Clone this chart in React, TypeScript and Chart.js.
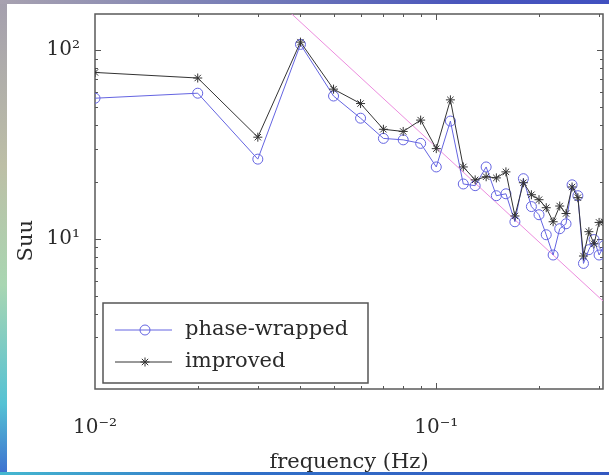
import React, { useEffect, useRef } from 'react';
import { Chart, registerables } from 'chart.js';

Chart.register(...registerables);

// ---------- data ----------
const freqs = [
  0.01, 0.02, 0.03, 0.04, 0.05, 0.06, 0.07, 0.08, 0.09, 0.1,
  0.11, 0.12, 0.13, 0.14, 0.15, 0.16, 0.17, 0.18, 0.19, 0.2,
  0.21, 0.22, 0.23, 0.24, 0.25, 0.26, 0.27, 0.28, 0.29, 0.3, 0.31,
];
const phaseWrapped = [
  55.5, 59, 26.4, 107, 57, 43.5, 34, 33.4, 32, 24,
  42, 19.5, 19.1, 24, 16.9, 17.3, 12.3, 20.8, 14.8, 13.4,
  10.5, 8.2, 11.3, 12.0, 19.3, 16.9, 7.4, 8.75, 9.9, 8.2, 9.2,
];
const improved = [
  76, 71, 34.5, 110, 62, 52, 38, 37, 42.5, 30,
  54.4, 24, 20.5, 21.3, 21, 22.6, 13.2, 19.8, 17.1, 16.1,
  14.6, 12.3, 14.9, 13.6, 18.8, 16.5, 8.1, 10.9, 9.4, 12.2, 12.3,
];
// -5/3 reference slope line end points
const refFreqs = [0.03, 0.31];
const refValues = [227, 4.63];

const xMajorTicks = [0.01, 0.1];
const xTickLabels = ['10⁻²', '10⁻¹'];
const yMajorTicks = [10, 100];
const yTickLabels = ['10¹', '10²'];

const seriesLabels = ['phase-wrapped', 'improved'];
const xTitle = 'frequency (Hz)';
const yTitle = 'Suu';

// ---------- styles ----------
const BLUE = 'rgb(100,100,225)';
const DARK = '#333333';
const PINK = 'rgb(236,140,222)';
const TEXT = '#2a2a2a';
const FONT = 'DejaVu Serif';

const isDecadeMatch = (list: number[], v: number) =>
  list.findIndex((t) => Math.abs(t - v) / t < 1e-6);

const isIntSignificand = (v: number) => {
  const s = v / Math.pow(10, Math.floor(Math.log10(v) + 1e-9));
  return Math.abs(s - Math.round(s)) < 1e-6;
};

const framePlugin = {
  id: 'matlabFrame',
  beforeDatasetsDraw(chart: any) {
    const { ctx, chartArea: a, scales } = chart;
    ctx.save();
    ctx.strokeStyle = '#555';
    ctx.lineWidth = 1;
    scales.x.ticks.forEach((t: any) => {
      if (!isIntSignificand(t.value)) return;
      const px = Math.round(scales.x.getPixelForValue(t.value)) + 0.5;
      if (px < a.left + 1 || px > a.right - 1) return;
      const len = isDecadeMatch(xMajorTicks, t.value) >= 0 ? 6 : 3;
      ctx.beginPath();
      ctx.moveTo(px, a.bottom);
      ctx.lineTo(px, a.bottom - len);
      ctx.moveTo(px, a.top);
      ctx.lineTo(px, a.top + len);
      ctx.stroke();
    });
    scales.y.ticks.forEach((t: any) => {
      if (!isIntSignificand(t.value)) return;
      const py = Math.round(scales.y.getPixelForValue(t.value)) + 0.5;
      if (py < a.top + 1 || py > a.bottom - 1) return;
      const len = isDecadeMatch(yMajorTicks, t.value) >= 0 ? 6 : 3;
      ctx.beginPath();
      ctx.moveTo(a.left, py);
      ctx.lineTo(a.left + len, py);
      ctx.moveTo(a.right, py);
      ctx.lineTo(a.right - len, py);
      ctx.stroke();
    });
    ctx.lineWidth = 1.5;
    ctx.strokeStyle = '#5a5a5a';
    ctx.strokeRect(a.left, a.top, a.right - a.left, a.bottom - a.top);
    ctx.restore();
  },
  afterDraw(chart: any) {
    const { ctx, chartArea: a, scales } = chart;
    ctx.save();
    ctx.fillStyle = TEXT;
    ctx.font = `21px "${FONT}"`;
    ctx.textAlign = 'center';
    ctx.textBaseline = 'middle';
    const cy = scales.y.getPixelForValue(10) + 2;
    ctx.translate(a.left - 68, cy);
    ctx.rotate(-Math.PI / 2);
    ctx.fillText(yTitle, 0, 0);
    ctx.restore();
  },
};

const legendPlugin = {
  id: 'matlabLegend',
  afterDatasetsDraw(chart: any) {
    const { ctx, chartArea: a } = chart;
    const left = a.left + 8;
    const bottom = a.bottom - 6;
    const w = 265;
    const h = 80;
    const top = bottom - h;
    ctx.save();
    ctx.fillStyle = '#fff';
    ctx.fillRect(left, top, w, h);
    ctx.strokeStyle = '#555';
    ctx.lineWidth = 1.5;
    ctx.strokeRect(left, top, w, h);
    const ds = chart.data.datasets;
    [0, 1].forEach((i) => {
      const d = ds[i];
      const y = top + 27 + i * 32;
      ctx.strokeStyle = d.borderColor;
      ctx.lineWidth = 1;
      ctx.beginPath();
      ctx.moveTo(left + 12, y);
      ctx.lineTo(left + 69, y);
      ctx.stroke();
      const mx = left + 42;
      if (d.pointStyle === 'circle') {
        ctx.beginPath();
        ctx.arc(mx, y, d.pointRadius, 0, Math.PI * 2);
        ctx.stroke();
      } else {
        const r = d.pointRadius;
        ctx.beginPath();
        for (let k = 0; k < 4; k++) {
          const ang = (k * Math.PI) / 4;
          ctx.moveTo(mx - r * Math.cos(ang), y - r * Math.sin(ang));
          ctx.lineTo(mx + r * Math.cos(ang), y + r * Math.sin(ang));
        }
        ctx.stroke();
      }
      ctx.fillStyle = TEXT;
      ctx.font = `21px "${FONT}"`;
      ctx.textAlign = 'left';
      ctx.textBaseline = 'middle';
      ctx.fillText(d.label, left + 82, y);
    });
    ctx.restore();
  },
};

export default function App() {
  const ref = useRef<HTMLCanvasElement | null>(null);

  useEffect(() => {
    if (!ref.current) return;
    const chart = new Chart(ref.current, {
      type: 'line',
      data: {
        datasets: [
          {
            label: seriesLabels[0],
            data: freqs.map((f, i) => ({ x: f, y: phaseWrapped[i] })),
            borderColor: BLUE,
            backgroundColor: 'rgba(0,0,0,0)',
            borderWidth: 1,
            pointStyle: 'circle',
            pointRadius: 5,
            pointBorderWidth: 1,
            pointBorderColor: BLUE,
            pointBackgroundColor: 'rgba(0,0,0,0)',
            order: 1,
          },
          {
            label: seriesLabels[1],
            data: freqs.map((f, i) => ({ x: f, y: improved[i] })),
            borderColor: DARK,
            backgroundColor: DARK,
            borderWidth: 1,
            pointStyle: 'star',
            pointRadius: 4.5,
            pointBorderWidth: 1,
            pointBorderColor: DARK,
            order: 0,
          },
          {
            label: 'slope',
            data: refFreqs.map((f, i) => ({ x: f, y: refValues[i] })),
            borderColor: PINK,
            borderWidth: 1,
            pointRadius: 0,
            order: 2,
          },
        ] as any,
      },
      options: {
        animation: false,
        responsive: false,
        maintainAspectRatio: false,
        layout: { padding: { top: 14, right: 5, left: 0, bottom: 0 } },
        plugins: {
          legend: { display: false },
          tooltip: { enabled: false },
        },
        scales: {
          x: {
            type: 'logarithmic',
            min: 0.01,
            max: 0.308,
            grid: { display: false },
            border: { display: false },
            ticks: {
              autoSkip: false,
              maxRotation: 0,
              minRotation: 0,
              padding: 19,
              color: TEXT,
              font: { family: FONT, size: 20 },
              callback: (v: any) => {
                const i = isDecadeMatch(xMajorTicks, Number(v));
                return i >= 0 ? xTickLabels[i] : '';
              },
            },
            title: {
              display: true,
              text: xTitle,
              color: TEXT,
              font: { family: FONT, size: 21 },
              padding: { top: 0, bottom: 0 },
            },
            afterFit: (s: any) => {
              s.height = 86;
              s.paddingLeft = 0;
              s.paddingRight = 0;
              s.paddingTop = 0;
              s.paddingBottom = 0;
            },
          },
          y: {
            type: 'logarithmic',
            min: 1.6,
            max: 155,
            grid: { display: false },
            border: { display: false },
            ticks: {
              autoSkip: false,
              padding: 7,
              color: TEXT,
              font: { family: FONT, size: 20 },
              callback: (v: any) => {
                const i = isDecadeMatch(yMajorTicks, Number(v));
                return i >= 0 ? yTickLabels[i] : '';
              },
            },
            afterFit: (s: any) => {
              s.width = 95;
              s.paddingLeft = 0;
              s.paddingRight = 0;
              s.paddingTop = 0;
              s.paddingBottom = 0;
            },
          },
        },
      } as any,
      plugins: [framePlugin, legendPlugin],
    });
    return () => chart.destroy();
  }, []);

  return (
    <div
      style={{
        position: 'fixed',
        left: 0,
        top: 0,
        width: 609,
        height: 475,
        overflow: 'hidden',
        background:
          'linear-gradient(to bottom, #a49fae 0%, #bdbfa6 35%, #a9d6b2 60%, #55c2d4 85%, #3d6fd0 100%)',
      }}
    >
      <div
        style={{
          position: 'absolute',
          left: 0,
          top: 0,
          width: 609,
          height: 4,
          background: 'linear-gradient(to right, #a8a2b0, #7078b8 45%, #4a56bc 75%, #4050c0)',
        }}
      />
      <div
        style={{
          position: 'absolute',
          left: 0,
          bottom: 0,
          width: 609,
          height: 3,
          background: 'linear-gradient(to right, #45b8d0, #3070c8 40%, #3458c0)',
        }}
      />
      <div
        style={{
          position: 'absolute',
          left: 7,
          top: 4,
          right: 0,
          bottom: 3,
          background: '#ffffff',
        }}
      />
      <canvas
        ref={ref}
        width={609}
        height={475}
        style={{ position: 'absolute', left: 0, top: 0, width: 609, height: 475 }}
      />
    </div>
  );
}
